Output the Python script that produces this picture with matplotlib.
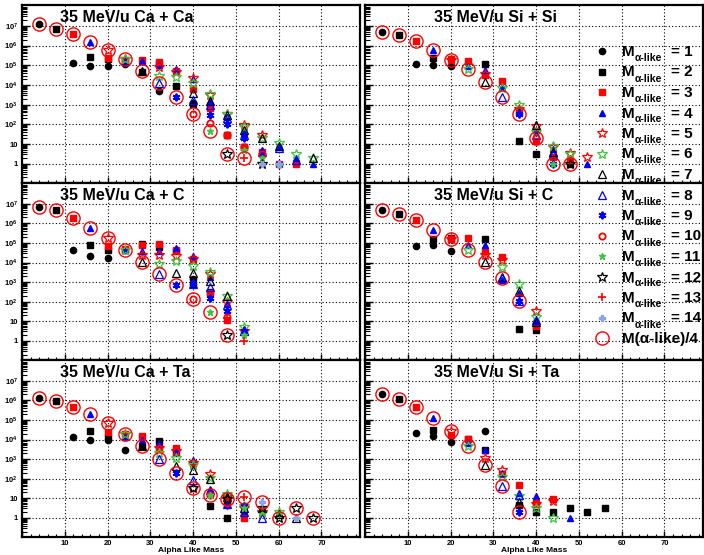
import matplotlib
matplotlib.use('Agg')
import matplotlib.pyplot as plt
from matplotlib.lines import Line2D
from matplotlib.ticker import (MultipleLocator, LogLocator, FixedLocator, FixedFormatter,
                               NullFormatter, FuncFormatter)

plt.rcParams['font.family'] = ['Liberation Sans', 'DejaVu Sans']
plt.rcParams['mathtext.fontset'] = 'custom'
plt.rcParams['mathtext.rm'] = 'Liberation Sans'
plt.rcParams['mathtext.bf'] = 'Liberation Sans:bold'
plt.rcParams['mathtext.it'] = 'Liberation Sans:italic'

# (mass, counts) for M_alpha-like = 1..14, per reaction
ca_ca = [
    [(4, 1.2e7), (12, 1.3e5), (16, 9e4), (20, 9e4), (24, 1.1e5), (32, 5e3), (40, 1.2e3)],
    [(8, 7e6), (16, 2.5e5), (20, 2.2e5), (24, 1.5e5), (28, 4.5e4), (32, 1.2e5), (36, 8.5e3), (40, 1.1e3), (48, 3e1), (52, 7)],
    [(12, 4e6), (20, 2.3e5), (24, 1.9e5), (28, 1.9e5), (32, 1.5e5), (36, 5e4), (40, 6e3), (44, 6.5e2), (48, 3e1), (52, 7), (56, 4), (60, 1), (64, 1)],
    [(16, 1.6e6), (24, 1.6e5), (28, 1.6e5), (32, 1e5), (36, 6.5e4), (40, 2e4), (44, 1.5e3), (48, 2.5e2), (52, 4e1), (56, 5), (60, 7), (64, 2), (68, 1)],
    [(20, 6e5), (24, 2e5), (32, 8e4), (36, 4.5e4), (40, 2.3e4), (44, 3e3), (48, 3.3e2), (52, 9e1), (56, 3e1)],
    [(24, 2e5), (32, 3e4), (36, 2.6e4), (40, 1.2e4), (44, 3.3e3), (48, 3.5e2), (52, 7e1), (56, 2e1), (60, 1.1e1), (64, 3), (68, 2)],
    [(28, 5e4), (40, 4e3), (44, 1.5e3), (48, 3e2), (52, 5e1), (56, 2e1), (60, 8), (68, 2)],
    [(32, 1.2e4), (40, 1.8e3), (44, 1e3), (48, 2e2), (52, 3e1), (56, 4), (60, 6), (64, 1.5)],
    [(36, 2.5e3), (44, 2.9e2), (48, 1e2), (52, 2e1), (56, 3), (60, 1)],
    [(40, 3.5e2), (44, 1.2e2), (48, 3e1), (52, 7), (56, 3)],
    [(44, 4.5e1), (52, 5), (56, 2), (60, 1)],
    [(48, 3), (56, 1)],
    [(52, 2)],
    [(56, 1), (60, 1)],
]
ca_ca_circ = [(4, 1.2e7), (8, 7e6), (12, 4e6), (16, 1.6e6), (20, 6e5), (24, 2e5), (28, 5e4), (32, 1.2e4),
              (36, 2.5e3), (40, 3.5e2), (44, 4.5e1), (48, 3), (52, 2)]

ca_c = [
    [(4, 7e6), (12, 4.6e4), (16, 2.1e4), (20, 1.7e4), (40, 1.5e3)],
    [(8, 4.6e6), (16, 7.6e4), (20, 4.6e4), (24, 4.2e4), (28, 9e4), (32, 6e4), (36, 3.8e4), (40, 8e2), (44, 3e2)],
    [(12, 1.9e6), (20, 6.7e4), (24, 5e4), (28, 8e4), (32, 9e4), (36, 4.5e4), (40, 1.6e4), (44, 2.9e2), (48, 1.1e1)],
    [(16, 5.8e5), (24, 4.6e4), (28, 3.8e4), (32, 3.8e4), (36, 5.6e4), (40, 2.1e4), (44, 1.9e3), (48, 8e1), (52, 4)],
    [(20, 1.8e5), (28, 2.5e4), (32, 2.5e4), (36, 2.1e4), (40, 1.5e4), (44, 2.5e3), (48, 9.5e1), (52, 3)],
    [(24, 4.6e4), (32, 8e3), (36, 1.2e4), (40, 7e3), (44, 3.4e3), (48, 1.9e2), (52, 5)],
    [(28, 1.1e4), (36, 3e3), (40, 2.8e3), (44, 1.1e3), (48, 1.9e2), (52, 3)],
    [(32, 2.5e3), (40, 8e2), (44, 5.8e2), (48, 7e1), (52, 3)],
    [(36, 6.8e2), (40, 9e2), (44, 1.6e2), (48, 3.4e1), (52, 3)],
    [(40, 1.4e2), (48, 1.6e1)],
    [(44, 3e1), (52, 2)],
    [(48, 2)],
    [(48, 1.5e1), (52, 1)],
    [],
]
ca_c_circ = [(4, 7e6), (8, 4.6e6), (12, 1.9e6), (16, 5.8e5), (20, 1.8e5), (24, 4.6e4), (28, 1.1e4), (32, 2.5e3),
             (36, 6.8e2), (40, 1.4e2), (44, 3e1), (48, 2)]

ca_ta = [
    [(4, 1.25e6), (12, 1.4e4), (16, 1e4), (20, 1e4), (24, 3e3)],
    [(8, 9.3e5), (16, 2.6e4), (20, 1.3e4), (28, 4.8e3), (32, 8e3), (36, 2e3), (44, 4.2), (48, 1)],
    [(12, 4.8e5), (20, 2.3e4), (24, 1.9e4), (28, 1.5e4), (32, 3.6e3), (36, 3.9e3), (40, 6e2), (48, 1e1), (52, 1)],
    [(16, 1.9e5), (24, 1.4e4), (28, 1e4), (32, 6.5e3), (36, 2.5e3), (40, 9e2), (44, 2.5e1), (48, 6), (52, 2.2)],
    [(20, 7.3e4), (24, 1.9e4), (32, 3.5e3), (36, 2.5e3), (40, 6e2), (44, 1.7e2), (48, 1.2e1), (52, 3), (56, 2)],
    [(24, 1.9e4), (32, 2e3), (36, 1.2e3), (40, 5e2), (44, 1.1e2), (48, 1.6e1), (52, 4), (56, 1.8), (60, 2)],
    [(28, 4.8e3), (36, 4.3e2), (40, 2.9e2), (44, 1e2), (48, 1.1e1), (52, 3), (56, 3), (60, 1.5), (64, 1)],
    [(32, 1e3), (40, 8.3e1), (44, 2.5e1), (48, 5), (52, 2), (56, 1)],
    [(36, 1.9e2), (44, 1.9e1), (48, 4.3), (52, 3.9)],
    [(40, 3.3e1), (44, 1.5e1), (48, 6)],
    [(44, 1.5e1), (52, 3), (56, 2), (60, 1.5)],
    [(40, 3.3e1), (48, 9), (56, 3.2), (60, 1), (64, 3), (68, 1)],
    [(52, 1.2e1)],
    [(56, 6.3), (64, 1)],
]
ca_ta_circ = [(4, 1.25e6), (8, 9.3e5), (12, 4.8e5), (16, 1.9e5), (20, 7.3e4), (24, 1.9e4), (28, 4.8e3), (32, 1e3),
              (36, 1.9e2), (40, 3.3e1), (44, 1.5e1), (48, 9), (52, 1.2e1), (56, 6.3), (60, 1), (64, 3), (68, 1)]

si_si = [
    [(4, 4.9e6), (12, 1.2e5), (16, 1.07e5), (20, 9.3e4)],
    [(8, 3.6e6), (16, 2.4e5), (28, 1.1e5), (36, 1.5e1), (40, 3), (48, 1)],
    [(12, 1.7e6), (20, 2.2e5), (24, 1.6e5), (28, 3.2e4), (32, 1.5e4), (36, 4e2), (40, 1.4e1), (44, 2.2), (48, 1.5)],
    [(16, 6.3e5), (24, 9e4), (28, 5.6e4), (32, 8e3), (36, 5e2), (40, 4.9e1), (44, 5.8), (52, 1)],
    [(20, 1.9e5), (28, 3.5e4), (36, 6e2), (40, 8e1), (44, 7), (48, 3.5), (52, 2.2)],
    [(24, 6.3e4), (32, 7e3), (36, 1e3), (40, 4e1), (44, 7.6), (48, 3)],
    [(28, 1.4e4), (40, 9e1), (44, 4)],
    [(32, 2.5e3), (40, 3e1), (44, 3)],
    [(36, 3.2e2), (44, 1)],
    [(40, 2.1e1)],
    [(44, 1)],
    [(48, 1)],
    [],
    [],
]
si_si_circ = [(4, 4.9e6), (8, 3.6e6), (12, 1.7e6), (16, 6.3e5), (20, 1.9e5), (24, 6.3e4), (28, 1.4e4), (32, 2.5e3),
              (36, 3.2e2), (40, 2.1e1), (44, 1), (48, 1)]

si_c = [
    [(4, 4.9e6), (12, 7.3e4), (16, 8.3e4), (20, 3.8e4)],
    [(8, 3.1e6), (16, 1.6e5), (20, 1.8e5), (28, 1.5e5), (36, 4.2), (40, 3.5)],
    [(12, 1.4e6), (20, 1.6e5), (24, 1.8e5), (28, 3.8e4), (32, 1.9e4), (40, 5.8)],
    [(16, 4.8e5), (24, 8.3e4), (28, 7.6e4), (32, 1.3e3), (36, 2.8e2), (40, 1e1)],
    [(20, 1.6e5), (28, 2.5e4), (32, 1.3e4), (40, 3.4e1)],
    [(24, 4.6e4), (32, 6e3), (36, 7.6e2), (40, 1.7e1)],
    [(28, 1.05e4), (32, 1.8e3), (36, 3.5e2), (40, 9)],
    [(32, 1.7e3), (36, 1.1e2), (40, 1.2e1)],
    [(36, 1.1e2)],
    [], [], [], [], [],
]
si_c_circ = [(4, 4.9e6), (8, 3.1e6), (12, 1.4e6), (16, 4.8e5), (20, 1.6e5), (24, 4.6e4), (28, 1.05e4), (32, 1.7e3),
             (36, 1.1e2)]

si_ta = [
    [(4, 2.1e6), (12, 2.1e4), (16, 1.5e4), (20, 7.3e3), (28, 2.6e4)],
    [(8, 1.2e6), (16, 3.1e4), (24, 1.1e4), (28, 3e3), (36, 4.4), (40, 2), (44, 2), (48, 3), (52, 2), (56, 3)],
    [(12, 4.8e5), (20, 1.7e4), (24, 1.1e4), (32, 1.7e2), (36, 4.6e1), (40, 5.4), (44, 9.3)],
    [(16, 1.2e5), (24, 7e3), (28, 3e3), (32, 2e2), (36, 1.9e1), (40, 1.25e1), (48, 1)],
    [(20, 2.8e4), (28, 1.1e3), (32, 2.9e2), (40, 5), (44, 7.5)],
    [(24, 4.8e3), (32, 1.2e2), (36, 1.25e1), (40, 3.2), (44, 1)],
    [(28, 5.2e2), (36, 6.3)],
    [(32, 4.1e1), (36, 1.4e1)],
    [(36, 2)],
    [], [], [], [], [],
]
si_ta_circ = [(4, 2.1e6), (8, 1.2e6), (12, 4.8e5), (16, 1.2e5), (20, 2.8e4), (24, 4.8e3), (28, 5.2e2), (32, 4.1e1),
              (36, 2)]

titles = [['35 MeV/u Ca + Ca', '35 MeV/u Si + Si'],
          ['35 MeV/u Ca + C', '35 MeV/u Si + C'],
          ['35 MeV/u Ca + Ta', '35 MeV/u Si + Ta']]
panels = [[(ca_ca, ca_ca_circ), (si_si, si_si_circ)],
          [(ca_c, ca_c_circ), (si_c, si_c_circ)],
          [(ca_ta, ca_ta_circ), (si_ta, si_ta_circ)]]
ytick_vals = [1, 10, 1e2, 1e3, 1e4, 1e5, 1e6, 1e7]
ytick_txt = ['1', '10'] + [r'$\mathbf{10^{%d}}$' % k for k in range(2, 8)]

green = '#3fc43f'
styles = [
    dict(marker='o', color='k', ms=4.5),
    dict(marker='s', color='k', ms=4.3),
    dict(marker='s', color='r', ms=4.3),
    dict(marker='^', color='b', ms=5),
    dict(marker='*', color='r', mfc='none', ms=7, mew=0.9),
    dict(marker='*', color=green, mfc='none', ms=7, mew=0.9),
    dict(marker='^', color='k', mfc='none', ms=5.5, mew=0.9),
    dict(marker='^', color='b', mfc='none', ms=5.5, mew=0.9),
    dict(marker=(6, 2, 0), color='b', ms=5.5, mew=1.4),
    dict(marker='o', color='r', mfc='none', ms=4.5, mew=1.3),
    dict(marker='*', color=green, ms=5),
    dict(marker='*', color='k', mfc='none', ms=7, mew=0.9),
    dict(marker='+', color='r', ms=6, mew=1.2),
    dict(marker='P', color='#8ea4e0', ms=5),
]
circ_style = dict(marker='o', mfc='none', mec='r', ms=9.5, mew=1.0)

W, H = 704, 555
fig = plt.figure(figsize=(W / 100, H / 100), dpi=100)
cols = [(22, 360), (365, 703)]
rows = [(5, 183), (183, 360), (360, 537)]


def xlab(v, pos):
    if v <= 0 or v > 75:
        return ''
    return '%d' % v


for r, (y0, y1) in enumerate(rows):
    for c, (x0, x1) in enumerate(cols):
        ax = fig.add_axes([x0 / W, 1 - y1 / H, (x1 - x0) / W, (y1 - y0) / H])
        ax.set_yscale('log')
        series, circ = panels[r][c]
        for i, pts in enumerate(series):
            if pts:
                xs, ys = zip(*pts)
                ax.plot(xs, ys, linestyle='none', **styles[i])
        xs, ys = zip(*circ)
        ax.plot(xs, ys, linestyle='none', **circ_style)

        ax.set_xlim(0, 79)
        ax.set_ylim(0.105, 1.15e8)
        ax.xaxis.set_major_locator(MultipleLocator(10))
        ax.xaxis.set_minor_locator(MultipleLocator(2))
        ax.yaxis.set_major_locator(FixedLocator(ytick_vals))
        ax.yaxis.set_minor_locator(LogLocator(base=10, subs=range(2, 10), numticks=30))
        ax.yaxis.set_minor_formatter(NullFormatter())
        if c == 0:
            ax.yaxis.set_major_formatter(FixedFormatter(ytick_txt))
        else:
            ax.yaxis.set_major_formatter(NullFormatter())
        if r == 2:
            ax.xaxis.set_major_formatter(FuncFormatter(xlab))
            ax.set_xlabel('Alpha Like Mass', fontsize=6, fontweight='bold', labelpad=0.5)
        else:
            ax.xaxis.set_major_formatter(NullFormatter())

        ax.tick_params(which='both', direction='in', top=False, right=False, color='k')
        ax.tick_params(axis='y', which='major', length=6, width=1, labelsize=5.5, pad=3)
        ax.tick_params(axis='y', which='minor', length=3.5, width=0.8)
        ax.tick_params(axis='x', which='major', length=4, width=1, labelsize=5.5, pad=2)
        ax.tick_params(axis='x', which='minor', length=2, width=0.8)
        for lab in ax.get_xticklabels() + ax.get_yticklabels():
            lab.set_fontweight('bold')
        ax.grid(True, which='major', color='k', linestyle=(0, (1, 2)), linewidth=0.8)
        for sp in ax.spines.values():
            sp.set_linewidth(1.6)

        tx = 0.112 if c == 0 else 0.204
        ax.text(tx, 0.93, titles[r][c], transform=ax.transAxes, fontsize=11.5,
                fontweight='bold', va='center', ha='left')

# legend drawn across the right-hand panels
for i in range(15):
    yp = 51 + 20.5 * i
    yf = 1 - yp / H
    if i < 14:
        st = styles[i]
        fig.add_artist(Line2D([602 / W], [yf], linestyle='none', transform=fig.transFigure, **st))
        fig.text(622 / W, 1 - (yp + 1) / H, 'M', fontsize=11, fontweight='bold', va='center', ha='left')
        fig.text(635 / W, 1 - (yp + 7) / H, '\u03b1-like', fontsize=7.5, fontweight='bold', va='center', ha='left')
        fig.text(671 / W, 1 - (yp + 1) / H, '= %d' % (i + 1), fontsize=11, fontweight='bold', va='center', ha='left')
    else:
        fig.add_artist(Line2D([602 / W], [yf], linestyle='none', transform=fig.transFigure, **circ_style))
        fig.text(622 / W, 1 - (yp + 1) / H, 'M(\u03b1-like)/4', fontsize=11, fontweight='bold', va='center', ha='left')

fig.savefig('out.png', dpi=100)
